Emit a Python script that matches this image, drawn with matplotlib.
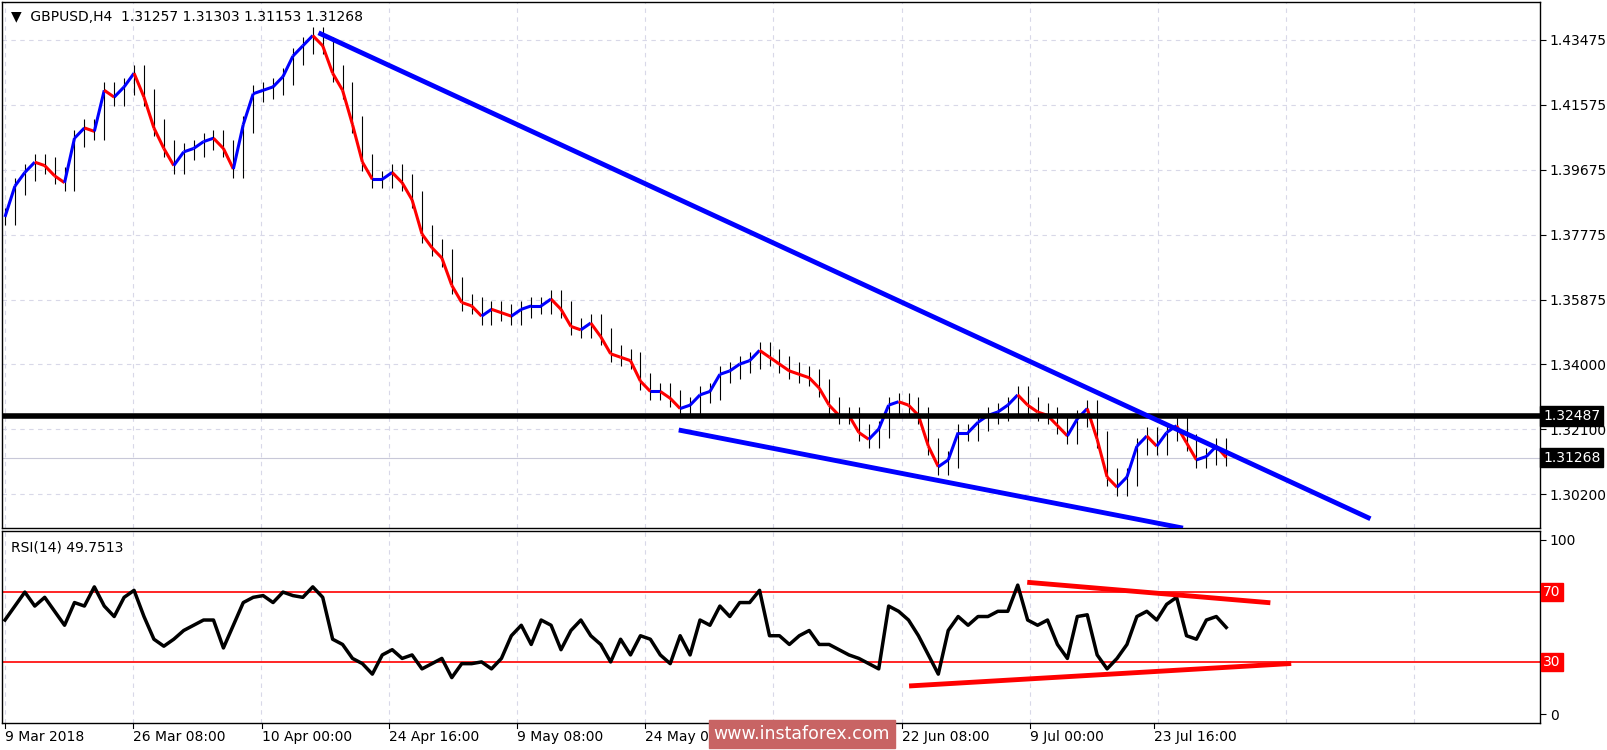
import numpy as np
import matplotlib
matplotlib.use("Agg")
import matplotlib.pyplot as plt
from matplotlib.collections import LineCollection

# closes sampled roughly every 5 H4 bars
closes = [1.383, 1.392, 1.396, 1.399, 1.398, 1.395, 1.393, 1.406, 1.409, 1.408,
          1.420, 1.418, 1.421, 1.425, 1.418, 1.409, 1.403, 1.398, 1.402, 1.403,
          1.405, 1.406, 1.403, 1.397, 1.410, 1.419, 1.420, 1.421, 1.424, 1.430,
          1.433, 1.436, 1.433, 1.425, 1.420, 1.410, 1.399, 1.394, 1.394, 1.396,
          1.393, 1.388, 1.378, 1.374, 1.371, 1.363, 1.358, 1.357, 1.354, 1.356,
          1.355, 1.354, 1.356, 1.357, 1.357, 1.359, 1.356, 1.351, 1.350, 1.352,
          1.348, 1.343, 1.342, 1.341, 1.335, 1.332, 1.332, 1.330, 1.327, 1.328,
          1.331, 1.332, 1.337, 1.338, 1.340, 1.341, 1.344, 1.342, 1.340, 1.338,
          1.337, 1.336, 1.333, 1.328, 1.325, 1.325, 1.320, 1.318, 1.321, 1.328,
          1.329, 1.328, 1.325, 1.316, 1.310, 1.312, 1.320, 1.320, 1.323, 1.325,
          1.326, 1.328, 1.331, 1.328, 1.326, 1.325, 1.322, 1.319, 1.324, 1.327,
          1.318, 1.307, 1.304, 1.307, 1.316, 1.319, 1.316, 1.320, 1.322, 1.317,
          1.312, 1.313, 1.316, 1.3127]

rsi = [54, 62, 70, 62, 67, 59, 51, 64, 62, 73,
       62, 56, 67, 71, 56, 43, 39, 43, 48, 51,
       54, 54, 38, 51, 64, 67, 68, 64, 70, 68,
       67, 73, 67, 43, 40, 32, 29, 23, 34, 37,
       32, 34, 26, 29, 32, 21, 29, 29, 30, 26,
       32, 45, 51, 40, 54, 51, 37, 48, 54, 45,
       40, 30, 43, 34, 45, 43, 34, 29, 45, 34,
       54, 51, 62, 56, 64, 64, 71, 45, 45, 40,
       45, 48, 40, 40, 37, 34, 32, 29, 26, 62,
       59, 54, 45, 34, 23, 48, 56, 51, 56, 56,
       59, 59, 74, 54, 51, 54, 40, 32, 56, 57,
       34, 26, 32, 40, 56, 59, 54, 63, 67, 45,
       43, 54, 56, 49.75]

date_labels = ["9 Mar 2018", "26 Mar 08:00", "10 Apr 00:00", "24 Apr 16:00",
               "9 May 08:00", "24 May 00:00", "8 Jun 16:00", "22 Jun 08:00",
               "9 Jul 00:00", "23 Jul 16:00"]
date_pos = [0.0, 12.9, 25.9, 38.7, 51.6, 64.5, 77.4, 90.3, 103.2, 115.7]

price_ticks = [1.43475, 1.41575, 1.39675, 1.37775, 1.35875, 1.34000, 1.32100, 1.30200]
support_level = 1.32487
last_price = 1.31268

# trendlines (x in sample index, y in price / rsi)
upper_trend = ([31.8, 137.3], [1.4365, 1.2951])
lower_trend = ([68.1, 118.4], [1.3206, 1.2922])
rsi_upper = ([103.2, 127.2], [75.5, 64.0])
rsi_lower = ([91.3, 129.3], [16.3, 29.0])

n = len(closes)
x = np.arange(n)
xlim = (-0.3, 154.6)

W, H = 1608, 750
fig = plt.figure(figsize=(W / 100, H / 100), dpi=100)
ax = fig.add_axes([2 / W, 1 - 528 / H, 1538 / W, 526 / H])
ax2 = fig.add_axes([2 / W, 1 - 723 / H, 1538 / W, 192 / H])

grid_kw = dict(color="#d8d8e8", linestyle=(0, (4, 4)), linewidth=0.8)
vgrid = [12.9 * k for k in range(13)]
for a in (ax, ax2):
    a.set_xlim(*xlim)
    for v in vgrid:
        a.axvline(v, zorder=0, **grid_kw)
    for s in a.spines.values():
        s.set_linewidth(1)
    a.tick_params(axis="x", length=0, labelbottom=False)
    a.yaxis.tick_right()
    a.tick_params(axis="y", direction="out", length=4, labelsize=10, pad=3)

# price panel
ax.set_ylim(1.2921, 1.4458)
for t in price_ticks:
    ax.axhline(t, zorder=0, **grid_kw)
ax.set_yticks(price_ticks)
ax.set_yticklabels([f"{t:.5f}" for t in price_ticks])

prev = [closes[0]] + closes[:-1]
for i in range(n):
    lo, hi = min(prev[i], closes[i]), max(prev[i], closes[i])
    ax.vlines(x[i], lo - 0.0025, hi + 0.0025, color="black", linewidth=0.8, zorder=2)

segs = [[(x[i], closes[i]), (x[i + 1], closes[i + 1])] for i in range(n - 1)]
cols = ["#0000ff" if closes[i + 1] >= closes[i] else "#ff0000" for i in range(n - 1)]
ax.add_collection(LineCollection(segs, colors=cols, linewidths=2.2, zorder=3))

ax.axhline(last_price, color="#c8c8d8", linewidth=0.8, zorder=1)
ax.axhline(support_level, color="black", linewidth=4, zorder=4)
ax.plot(*upper_trend, color="#0000ff", linewidth=3.5, zorder=5)
ax.plot(*lower_trend, color="#0000ff", linewidth=3.5, zorder=5)

for val in (support_level, last_price):
    ax.text(1.002, val, f"{val:.5f}", transform=ax.get_yaxis_transform(),
            va="center", ha="left", color="white", fontsize=10,
            bbox=dict(boxstyle="square,pad=0.2", fc="black", ec="black"), zorder=10, clip_on=False)

ax.text(0.006, 0.985, "\u25bc  GBPUSD,H4  1.31257 1.31303 1.31153 1.31268", transform=ax.transAxes,
        va="top", ha="left", fontsize=10)

# rsi panel
ax2.set_ylim(-5, 105)
ax2.set_yticks([0, 100])
ax2.set_yticklabels(["0", "100"])
ax2.plot(x, rsi, color="black", linewidth=2.5, zorder=3)
for lvl in (70, 30):
    ax2.axhline(lvl, color="#ff0000", linewidth=1.2, zorder=2)
    ax2.text(1.002, lvl, str(lvl), transform=ax2.get_yaxis_transform(), va="center", ha="left",
             color="white", fontsize=10, clip_on=False,
             bbox=dict(boxstyle="square,pad=0.15", fc="#ff0000", ec="#ff0000"))
ax2.plot(*rsi_upper, color="#ff0000", linewidth=3.5, zorder=4)
ax2.plot(*rsi_lower, color="#ff0000", linewidth=3.5, zorder=4)
ax2.text(0.006, 0.95, "RSI(14) 49.7513", transform=ax2.transAxes, va="top", ha="left", fontsize=10)

for pos, lab in zip(date_pos, date_labels):
    ax2.text(pos, -0.035, lab, transform=ax2.get_xaxis_transform(), ha="left", va="top", fontsize=10)
    ax2.plot([pos, pos], [-0.0, -0.025], transform=ax2.get_xaxis_transform(),
             color="black", linewidth=0.8, clip_on=False)

fig.text(802 / W, 1 - 734 / H, "www.instaforex.com", ha="center", va="center", color="white",
         fontsize=12.5, bbox=dict(boxstyle="square,pad=0.3", fc="#c86464", ec="#c86464"))

fig.savefig("out.png", dpi=100)
